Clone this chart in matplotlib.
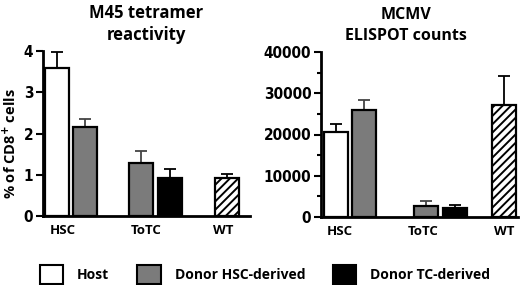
import matplotlib
matplotlib.use("Agg")
import matplotlib.pyplot as plt
from matplotlib.patches import Patch
from matplotlib.ticker import MultipleLocator
from matplotlib.font_manager import FontProperties

groups = ["HSC", "ToTC", "WT"]
series = ["Host", "Donor HSC-derived", "Donor TC-derived"]

# M45 tetramer reactivity (% of CD8+ cells)
tet_host = [3.6, None, None]
tet_host_err = [0.38, None, None]
tet_donor_hsc = [2.16, 1.29, None]
tet_donor_hsc_err = [0.19, 0.28, None]
tet_donor_tc = [None, 0.92, None]
tet_donor_tc_err = [None, 0.21, None]
tet_wt = [None, None, 0.93]
tet_wt_err = [None, None, 0.08]

# MCMV ELISPOT counts
eli_host = [20700, None, None]
eli_host_err = [1900, None, None]
eli_donor_hsc = [26000, 2700, None]
eli_donor_hsc_err = [2400, 1300, None]
eli_donor_tc = [None, 2200, None]
eli_donor_tc_err = [None, 600, None]
eli_wt = [None, None, 27100]
eli_wt_err = [None, None, 7100]

GREY = "#7b7b7b"
plt.rcParams["hatch.linewidth"] = 1.4
TICKFP = FontProperties(family=["DejaVu Sans"], weight="bold", stretch="condensed", size=11)
TEXTFONT = dict(family=["Open Sans", "DejaVu Sans"], weight="bold")

fig = plt.figure(figsize=(5.2, 2.85), dpi=100)

def draw_bars(ax, xpos, vals, errs, color, hatch=None, width=0.3):
    for x, v, e in zip(xpos, vals, errs):
        if v is None:
            continue
        ax.bar(x, v, width=width, color=color, edgecolor="black", linewidth=1.6,
               hatch=hatch, zorder=2)
        ax.errorbar(x, v, yerr=[[0], [e]], fmt="none",
                    ecolor="#444444" if color == GREY else "black",
                    elinewidth=1.3, capsize=4, capthick=1.3, zorder=1, clip_on=False)

def style_axis(ax, ymax, major, minor, tickpos):
    ax.spines["top"].set_visible(False)
    ax.spines["right"].set_visible(False)
    ax.spines["left"].set_linewidth(2)
    ax.spines["bottom"].set_linewidth(2)
    ax.set_ylim(0, ymax)
    ax.yaxis.set_major_locator(MultipleLocator(major))
    if minor:
        ax.yaxis.set_minor_locator(MultipleLocator(minor))
        ax.tick_params(axis="y", which="minor", length=3, width=1.5)
    ax.tick_params(axis="y", which="major", length=5, width=1.5, pad=2)
    ax.tick_params(axis="x", length=0, pad=6)
    ax.set_xticks(tickpos)
    ax.set_xticklabels(groups, fontsize=9.5, **TEXTFONT)
    for lab in ax.get_yticklabels():
        lab.set_fontproperties(TICKFP)

off = 0.18

# ---- left panel
ax1 = fig.add_axes([43 / 520, 69 / 285, 207 / 520, 165 / 285])
pos1 = [0, 1.06, 1.95]
draw_bars(ax1, [p - off for p in pos1], tet_host, tet_host_err, "white")
draw_bars(ax1, [p + off if i == 0 else p - off for i, p in enumerate(pos1)],
          tet_donor_hsc, tet_donor_hsc_err, GREY)
draw_bars(ax1, [p + off for p in pos1], tet_donor_tc, tet_donor_tc_err, "black")
draw_bars(ax1, pos1, tet_wt, tet_wt_err, "white", hatch="////")
ax1.set_xlim(-0.35, 2.24)
style_axis(ax1, 4, 1, None, [-0.1, 0.94, 1.91])
ax1.set_ylabel("% of CD8$^{\\mathbf{+}}$ cells", fontsize=10.5, **TEXTFONT)
ax1.yaxis.set_label_coords(-0.118, 0.44)
ax1.set_title("M45 tetramer\nreactivity", fontsize=12, linespacing=1.3, pad=8, **TEXTFONT)

# ---- right panel
ax2 = fig.add_axes([321 / 520, 68 / 285, 197 / 520, 165 / 285])
pos2 = [0, 1.13, 1.925]
draw_bars(ax2, [p - off for p in pos2], eli_host, eli_host_err, "white")
draw_bars(ax2, [p + off if i == 0 else p - off for i, p in enumerate(pos2)],
          eli_donor_hsc, eli_donor_hsc_err, GREY)
draw_bars(ax2, [p + off for p in pos2], eli_donor_tc, eli_donor_tc_err, "black")
draw_bars(ax2, pos2, eli_wt, eli_wt_err, "white", hatch="////")
ax2.set_xlim(-0.3625, 2.10)
style_axis(ax2, 40000, 10000, 5000, [-0.125, 0.91, 1.925])
ax2.set_title("MCMV\nELISPOT counts", fontsize=11.5, linespacing=1.35, pad=9, x=0.43,
              **TEXTFONT)

# ---- legend
handles = [Patch(facecolor=c, edgecolor="black", linewidth=1.5) for c in ["white", GREY, "black"]]
fig.legend(handles, series, loc="lower left", bbox_to_anchor=(0.052, -0.04), ncol=3,
           frameon=False, handlelength=1.7, handleheight=1.7, handletextpad=1.0,
           columnspacing=2.0,
           prop=FontProperties(family=["Open Sans", "DejaVu Sans"], weight="bold", size=10))

fig.savefig("out.png", dpi=100)
